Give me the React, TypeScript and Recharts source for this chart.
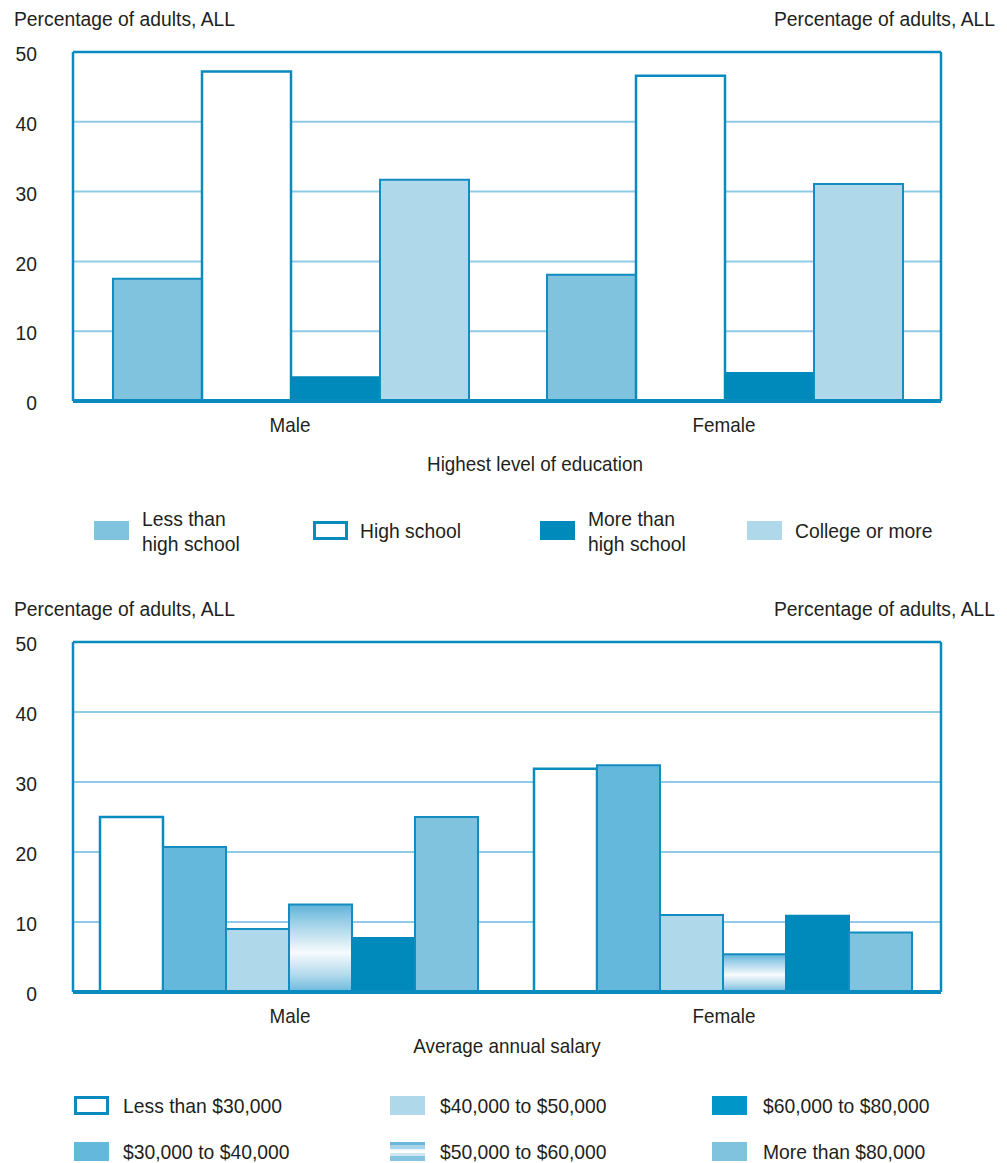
import { BarChart, Bar, XAxis, YAxis, CartesianGrid, ReferenceLine } from 'recharts';

const FONT = '"Liberation Sans", Arial, sans-serif';
const INK = '#231f20';
const FRAME = '#0a8bbf';
const GRID = '#8fcbe5';
const BAR_LINE = '#138dc0';
const SQUEEZE = 0.92; // the original uses a condensed face

// shared
const sexes = ['Male', 'Female'];
const yTicks = [0, 10, 20, 30, 40, 50];
const yTitle = 'Percentage of adults, ALL';

// top chart: highest level of education
const lessThanHighSchool = [17.5, 18.1];
const highSchool = [47.2, 46.6];
const moreThanHighSchool = [3.4, 4.0];
const collegeOrMore = [31.7, 31.1];

// bottom chart: average annual salary
const under30k = [25.0, 31.9];
const from30to40k = [20.7, 32.4];
const from40to50k = [9.0, 11.0];
const from50to60k = [12.5, 5.4];
const from60to80k = [7.7, 10.9];
const over80k = [25.0, 8.5];

const eduData = sexes.map((s, i) => ({
  sex: s,
  less: lessThanHighSchool[i],
  high: highSchool[i],
  more: moreThanHighSchool[i],
  college: collegeOrMore[i],
}));

const salaryData = sexes.map((s, i) => ({
  sex: s,
  s1: under30k[i],
  s2: from30to40k[i],
  s3: from40to50k[i],
  s4: from50to60k[i],
  s5: from60to80k[i],
  s6: over80k[i],
}));

// narrow svg text
const T = ({ x, y, anchor = 'start', size = 21, children }: any) => (
  <text
    transform={`translate(${x} ${y}) scale(${SQUEEZE} 1)`}
    textAnchor={anchor}
    dominantBaseline="central"
    fontSize={size}
    fill={INK}
    fontFamily={FONT}
  >
    {children}
  </text>
);

const SideTick = (p: any) => (
  <T x={p.x} y={p.y + 2} anchor="end">
    {p.payload.value}
  </T>
);

const CatTick = (p: any) => (
  <T x={p.x} y={p.y} anchor="middle" size={20.5}>
    {p.payload.value}
  </T>
);

const leftTitle = (props: any) => (
  <T x={props.viewBox.x + 14} y={props.viewBox.y - 33}>
    {yTitle}
  </T>
);

const rightTitle = (props: any) => (
  <T x={props.viewBox.x + props.viewBox.width - 12} y={props.viewBox.y - 33} anchor="end">
    {yTitle}
  </T>
);

const xTitle = (text: string, dx: number, dy: number) => (props: any) => (
  <T x={props.viewBox.x + props.viewBox.width / 2 + dx} y={props.viewBox.y + dy} anchor="middle" size={20.5}>
    {text}
  </T>
);

const frameAxes = (title: string, dx: number, dy: number) => [
  <CartesianGrid key="g" yAxisId="left" horizontal vertical={false} stroke={GRID} strokeWidth={2} />,
  <XAxis
    key="x"
    dataKey="sex"
    axisLine={{ stroke: FRAME, strokeWidth: 4 }}
    tickLine={false}
    tickSize={0}
    tickMargin={24}
    tick={<CatTick />}
    height={40}
    label={{ content: xTitle(title, dx, dy) }}
  />,
  <YAxis
    key="yl"
    yAxisId="left"
    domain={[0, 50]}
    ticks={yTicks}
    width={73}
    axisLine={{ stroke: FRAME, strokeWidth: 2.5 }}
    tickLine={false}
    tickSize={0}
    tickMargin={36}
    tick={<SideTick />}
    label={{ content: leftTitle }}
  />,
  <YAxis
    key="yr"
    yAxisId="right"
    orientation="right"
    domain={[0, 50]}
    ticks={yTicks}
    width={66}
    axisLine={{ stroke: FRAME, strokeWidth: 2.5 }}
    tickLine={false}
    tickSize={0}
    tickMargin={54}
    tick={<SideTick />}
    label={{ content: rightTitle }}
  />,
  <ReferenceLine key="top" yAxisId="left" y={50} stroke={FRAME} strokeWidth={2.5} />,
];

const txt: React.CSSProperties = {
  position: 'absolute',
  fontFamily: FONT,
  fontSize: 21,
  color: INK,
  lineHeight: '25px',
  whiteSpace: 'nowrap',
  transform: `scaleX(${SQUEEZE})`,
  transformOrigin: 'left center',
};

const Swatch = ({ x, y, bg, outline }: { x: number; y: number; bg: string; outline?: boolean }) => (
  <div
    style={{
      position: 'absolute',
      left: x,
      top: y,
      width: 35,
      height: 19,
      boxSizing: 'border-box',
      background: bg,
      border: outline ? `3px solid ${FRAME}` : 'none',
    }}
  />
);

const Item = ({ x, y, tx, bg, outline, lines }: { x: number; y: number; tx: number; bg: string; outline?: boolean; lines: string[] }) => (
  <>
    <Swatch x={x} y={y} bg={bg} outline={outline} />
    <div style={{ ...txt, left: tx, top: y + 9.5 - (lines.length * 25) / 2 }}>
      {lines.map((l) => (
        <div key={l}>{l}</div>
      ))}
    </div>
  </>
);

const stripes =
  'linear-gradient(to bottom, #6ab9dd 0%, #6ab9dd 15%, #a7d4ea 15%, #a7d4ea 35%, #eef6fb 35%, #eef6fb 45%, #ffffff 45%, #ffffff 60%, #cfe7f3 60%, #cfe7f3 75%, #86c5e2 75%, #86c5e2 100%)';

export default function App() {
  return (
    <div style={{ position: 'absolute', left: 0, top: 0, width: 1007, height: 1163, background: '#fff' }}>
      <svg width={0} height={0} style={{ position: 'absolute' }}>
        <defs>
          <linearGradient id="band5060" x1="0" y1="0" x2="0" y2="1">
            <stop offset="0%" stopColor="#5fb3da" />
            <stop offset="20%" stopColor="#9ccfe7" />
            <stop offset="55%" stopColor="#f8fbfd" />
            <stop offset="80%" stopColor="#b4daec" />
            <stop offset="100%" stopColor="#6ab9dd" />
          </linearGradient>
        </defs>
      </svg>

      <div style={{ position: 'absolute', left: 0, top: 0 }}>
        <BarChart width={1007} height={480} data={eduData} margin={{ top: 52, right: 0, bottom: 39, left: 0 }} barCategoryGap={40} barGap={0}>
          {frameAxes('Highest level of education', 28, 63)}
          <Bar yAxisId="left" dataKey="less" fill="#80c3df" stroke={BAR_LINE} strokeWidth={2} isAnimationActive={false} />
          <Bar yAxisId="left" dataKey="high" fill="#ffffff" stroke={FRAME} strokeWidth={2.5} isAnimationActive={false} />
          <Bar yAxisId="left" dataKey="more" fill="#0089bb" stroke="#0089bb" strokeWidth={2} isAnimationActive={false} />
          <Bar yAxisId="left" dataKey="college" fill="#afd8eb" stroke={BAR_LINE} strokeWidth={2} isAnimationActive={false} />
        </BarChart>
      </div>

      <Item x={94} y={521} tx={142} bg="#80c3df" lines={['Less than', 'high school']} />
      <Item x={313} y={521} tx={360} bg="#ffffff" outline lines={['High school']} />
      <Item x={540} y={521} tx={588} bg="#0089bb" lines={['More than', 'high school']} />
      <Item x={747} y={521} tx={795} bg="#afd8eb" lines={['College or more']} />

      <div style={{ position: 'absolute', left: 0, top: 590 }}>
        <BarChart width={1007} height={480} data={salaryData} margin={{ top: 52, right: 0, bottom: 38, left: 0 }} barCategoryGap={27} barGap={0}>
          {frameAxes('Average annual salary', 0, 54)}
          <Bar yAxisId="left" dataKey="s1" fill="#ffffff" stroke={FRAME} strokeWidth={2.5} isAnimationActive={false} />
          <Bar yAxisId="left" dataKey="s2" fill="#63b8dc" stroke={BAR_LINE} strokeWidth={2} isAnimationActive={false} />
          <Bar yAxisId="left" dataKey="s3" fill="#afd8eb" stroke={BAR_LINE} strokeWidth={2} isAnimationActive={false} />
          <Bar yAxisId="left" dataKey="s4" fill="url(#band5060)" stroke={BAR_LINE} strokeWidth={2} isAnimationActive={false} />
          <Bar yAxisId="left" dataKey="s5" fill="#0089bb" stroke="#0089bb" strokeWidth={2} isAnimationActive={false} />
          <Bar yAxisId="left" dataKey="s6" fill="#80c3df" stroke={BAR_LINE} strokeWidth={2} isAnimationActive={false} />
        </BarChart>
      </div>

      <Item x={74} y={1096} tx={123} bg="#ffffff" outline lines={['Less than $30,000']} />
      <Item x={390} y={1096} tx={440} bg="#afd8eb" lines={['$40,000 to $50,000']} />
      <Item x={712} y={1096} tx={763} bg="#0096c8" lines={['$60,000 to $80,000']} />
      <Item x={74} y={1142} tx={123} bg="#63b8dc" lines={['$30,000 to $40,000']} />
      <Item x={390} y={1142} tx={440} bg={stripes} lines={['$50,000 to $60,000']} />
      <Item x={712} y={1142} tx={763} bg="#80c3df" lines={['More than $80,000']} />
    </div>
  );
}
